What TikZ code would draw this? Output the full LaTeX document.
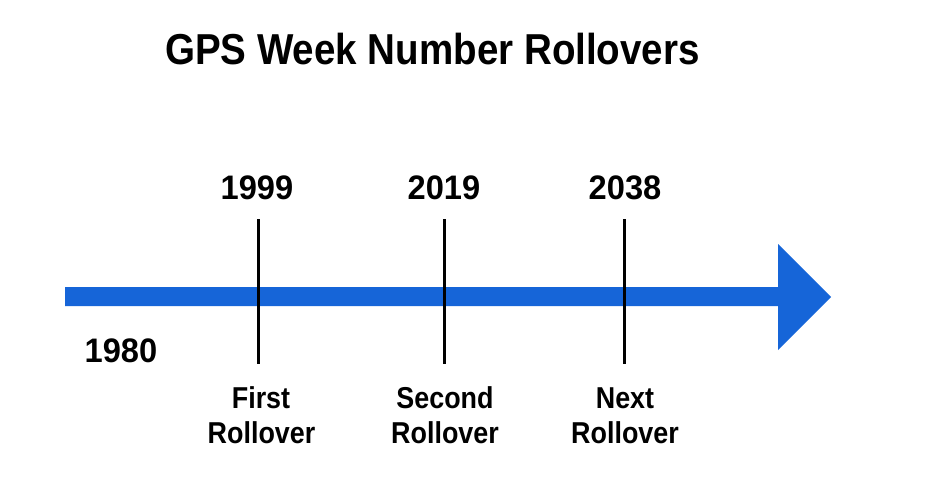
\documentclass[tikz,border=0pt]{standalone}
\usepackage{fontspec}
\setmainfont{Liberation Sans}[FakeStretch=0.89]
\newfontfamily\yearfont{Liberation Sans}[FakeStretch=0.96]
\definecolor{tlblue}{RGB}{22,101,216}
\begin{document}
\begin{tikzpicture}[x=1pt,y=-1pt,
  lbl/.style={inner sep=0pt, anchor=base, font=\bfseries},
  title/.style={lbl, font=\bfseries\fontsize{43.3}{50}\selectfont},
  year/.style={lbl, font=\yearfont\bfseries\fontsize{34}{40}\selectfont},
  sub/.style={lbl, font=\bfseries\fontsize{30.2}{35}\selectfont},
  tick/.style={line width=3pt, black}]
\useasboundingbox (0,0) rectangle (928,492);
\fill[white] (0,0) rectangle (928,492);
% timeline arrow
\fill[tlblue] (65,287) -- (778,287) -- (778,244) -- (831,297) -- (778,350) -- (778,306) -- (65,306) -- cycle;
% title
\node[title] (title) at (432.5,64.3) {GPS Week Number Rollovers};
% ticks
\foreach \n/\x in {a/258, b/444, c/624} {
  \coordinate (\n top) at (\x,219);
  \coordinate (\n bot) at (\x,364);
  \draw[tick] (\n top) -- (\n bot);
}
% years
\node[year] (y1999) at (257,199) {1999};
\node[year] (y2019) at (444,199) {2019};
\node[year] (y2038) at (625,199) {2038};
\node[year] (y1980) at (121,362) {1980};
% labels
\node[sub] (l1a) at (261,408.3) {First};
\node[sub] (l1b) at (261.5,443.3) {Rollover};
\node[sub] (l2a) at (445,408.3) {Second};
\node[sub] (l2b) at (445,443.3) {Rollover};
\node[sub] (l3a) at (625,408.3) {Next};
\node[sub] (l3b) at (625,443.3) {Rollover};
\end{tikzpicture}
\end{document}
